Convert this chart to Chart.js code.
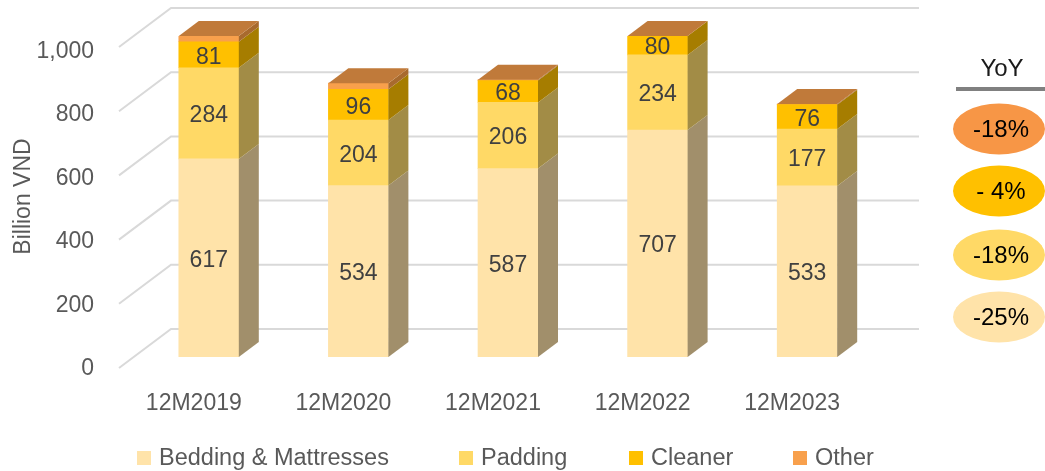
<!DOCTYPE html>
<html><head><meta charset="utf-8">
<script src="https://cdn.jsdelivr.net/npm/chart.js@4.4.1/dist/chart.umd.min.js"></script>
<style>html,body{margin:0;padding:0;background:#fff;}#wrap{width:1045px;height:471px;position:relative;}</style>
</head><body><div id="wrap"><canvas id="c" width="1045" height="471"></canvas></div>
<script>
const categories = ['12M2019','12M2020','12M2021','12M2022','12M2023'];
const bedding = [617, 534, 587, 707, 533];
const paddingVals = [284, 204, 206, 234, 177];
const cleaner = [81, 96, 68, 80, 76];
const other = [20, 19, 3, 15, 2];
const seriesNames = ['Bedding & Mattresses', 'Padding', 'Cleaner', 'Other'];
const yTicks = [0, 200, 400, 600, 800, 1000];
const yoyTitle = 'YoY';
const yoyLabels = ['-18%', '- 4%', '-18%', '-25%'];

const FONT = 'Liberation Sans, Arial, sans-serif';
const frontColors = ['#FFE3A9', '#FFD966', '#FFC000', '#F8A04C'];
const sideColors = ['#A18F6B', '#A28C46', '#A67D00', '#A86A2E'];
const topColor = '#C07A3A';
const yoyColors = ['#F79646', '#FFC000', '#FFD966', '#FFE3A9'];
const showValues = [true, true, true, false];
const DX = 20, DY = 15;          // bar depth
const FRONT = [-15, 11], BACK = [37, -28]; // wall offsets from bar plane

const threeD = {
  id: 'threeD',
  beforeDatasetsDraw(chart) {
    const ctx = chart.ctx, a = chart.chartArea, y = chart.scales.y;
    ctx.save();
    ctx.strokeStyle = '#D9D9D9';
    ctx.lineWidth = 2;
    yTicks.forEach(v => {
      const py = y.getPixelForValue(v);
      ctx.beginPath();
      ctx.moveTo(a.left + FRONT[0], py + FRONT[1]);
      ctx.lineTo(a.left + BACK[0], py + BACK[1]);
      ctx.lineTo(a.right + BACK[0], py + BACK[1]);
      ctx.stroke();
    });
    ctx.restore();
  },
  afterDatasetsDraw(chart) {
    const ctx = chart.ctx, a = chart.chartArea;
    const n = chart.data.labels.length;
    ctx.save();
    for (let j = 0; j < n; j++) {
      let topY = null, L = 0, R = 0;
      chart.data.datasets.forEach((ds, i) => {
        const el = chart.getDatasetMeta(i).data[j];
        const p = el.getProps(['x', 'y', 'base', 'width'], true);
        const left = p.x - p.width / 2, right = p.x + p.width / 2;
        const yt = Math.max(Math.min(p.y, p.base), a.top), yb = Math.min(Math.max(p.y, p.base), a.bottom);
        if (yb - yt <= 0.01) return;
        ctx.fillStyle = sideColors[i];
        ctx.beginPath();
        ctx.moveTo(right, yb);
        ctx.lineTo(right, yt);
        ctx.lineTo(right + DX, yt - DY);
        ctx.lineTo(right + DX, yb - DY);
        ctx.closePath();
        ctx.fill();
        topY = yt; L = left; R = right;
      });
      if (topY !== null) {
        ctx.fillStyle = topColor;
        ctx.beginPath();
        ctx.moveTo(L, topY);
        ctx.lineTo(L + DX, topY - DY);
        ctx.lineTo(R + DX, topY - DY);
        ctx.lineTo(R, topY);
        ctx.closePath();
        ctx.fill();
      }
    }
    // value labels
    ctx.font = '23px ' + FONT;
    ctx.fillStyle = '#404040';
    ctx.textAlign = 'center';
    ctx.textBaseline = 'middle';
    chart.data.datasets.forEach((ds, i) => {
      if (!showValues[i]) return;
      chart.getDatasetMeta(i).data.forEach((el, j) => {
        const p = el.getProps(['x', 'y', 'base'], true);
        const yt = Math.max(p.y, a.top), yb = Math.min(p.base, a.bottom);
        ctx.fillText(String(ds.data[j]), p.x, (yt + yb) / 2 + 2.5);
      });
    });
    ctx.restore();
  },
  afterDraw(chart) {
    const ctx = chart.ctx;
    ctx.save();
    // legend
    const boxX = [137, 459, 629, 793];
    ctx.font = '23.5px ' + FONT;
    ctx.textBaseline = 'middle';
    ctx.textAlign = 'left';
    chart.data.datasets.forEach((ds, i) => {
      ctx.fillStyle = ds.backgroundColor;
      ctx.fillRect(boxX[i], 451, 14, 14);
      ctx.fillStyle = '#595959';
      ctx.fillText(ds.label, boxX[i] + 22, 459);
    });
    // YoY panel
    ctx.fillStyle = '#1A1A1A';
    ctx.textAlign = 'center';
    ctx.font = '24px ' + FONT;
    ctx.fillText(yoyTitle, 1002, 69);
    ctx.fillStyle = '#808080';
    ctx.fillRect(956, 87, 89, 4);
    const cy = [129, 191, 255, 317];
    yoyLabels.forEach((t, k) => {
      ctx.fillStyle = yoyColors[k];
      ctx.beginPath();
      ctx.ellipse(999, cy[k], 46, 25.5, 0, 0, Math.PI * 2);
      ctx.fill();
      ctx.fillStyle = '#000000';
      ctx.font = '24px ' + FONT;
      ctx.fillText(t, 1001, cy[k] + 1);
    });
    ctx.restore();
  }
};

const dataArrays = [bedding, paddingVals, cleaner, other];
new Chart(document.getElementById('c'), {
  type: 'bar',
  data: {
    labels: categories,
    datasets: dataArrays.map((d, i) => ({
      label: seriesNames[i],
      data: d,
      backgroundColor: frontColors[i],
      borderWidth: 0,
      barThickness: 60
    }))
  },
  options: {
    responsive: false,
    animation: false,
    devicePixelRatio: 1,
    layout: { padding: { left: 0, right: 163, top: 36, bottom: 54 } },
    plugins: { legend: { display: false }, tooltip: { enabled: false } },
    scales: {
      x: {
        stacked: true,
        grid: { display: false, drawTicks: false },
        border: { display: false },
        ticks: { font: { size: 23, family: FONT }, color: '#595959', labelOffset: -15, padding: 33 },
        afterFit(s) { s.height = 60; s.paddingLeft = 0; s.paddingRight = 0; }
      },
      y: { stacked: true, min: 0, max: 1000, display: false },
      yl: {
        position: 'left',
        min: 37.8, max: 1048.8,
        grid: { display: false, drawTicks: false },
        border: { display: false },
        ticks: {
          font: { size: 23, family: FONT }, color: '#595959', padding: 40,
          callback: v => Number(v).toLocaleString('en-US')
        },
        afterBuildTicks(s) { s.ticks = yTicks.map(v => ({ value: v })); },
        afterFit(s) { s.width = 134; s.paddingTop = 0; s.paddingBottom = 0; },
        title: { display: true, text: 'Billion VND', color: '#595959', font: { size: 23, family: FONT }, padding: { top: 10, bottom: 0 } }
      }
    }
  },
  plugins: [threeD]
});
</script></body></html>
